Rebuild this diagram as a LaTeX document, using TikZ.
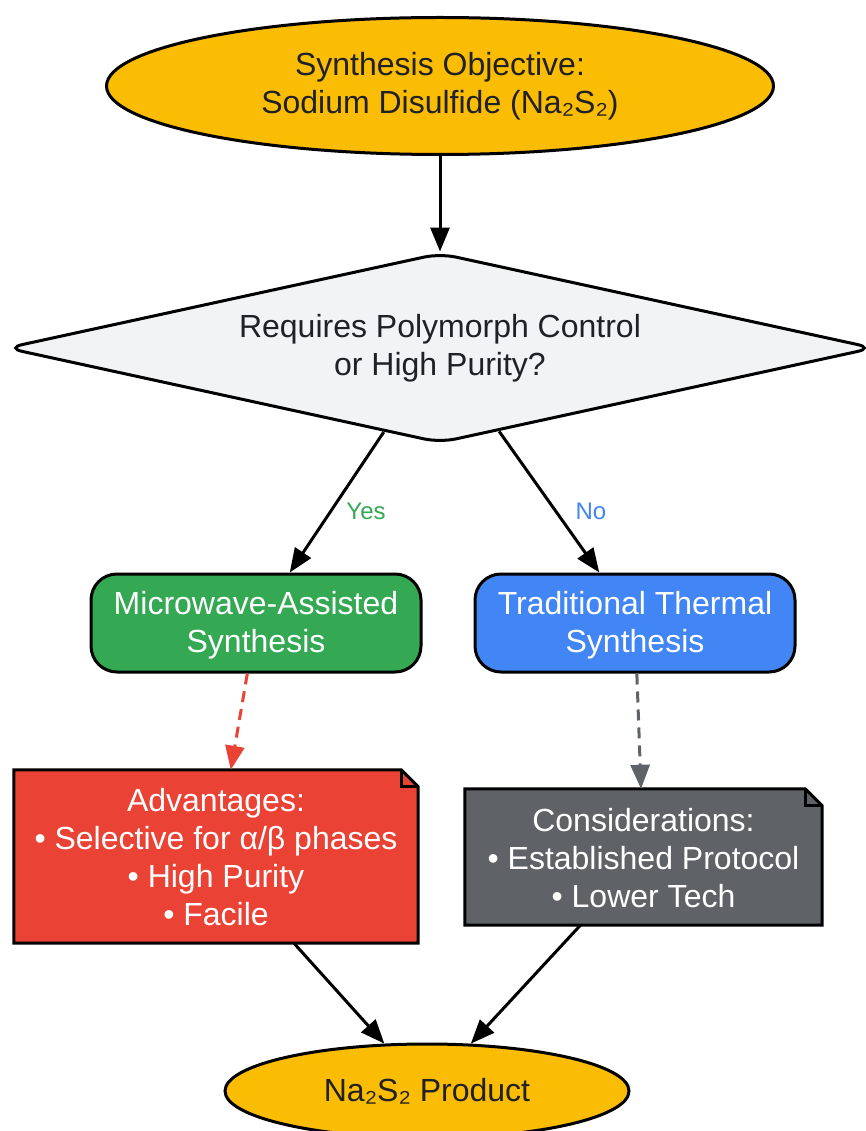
\documentclass[tikz,border=0pt]{standalone}
\usepackage{fontspec}
\setmainfont{Liberation Sans}
\usetikzlibrary{shapes.geometric,arrows.meta,calc}
\definecolor{gyellow}{HTML}{FBBC04}
\definecolor{glight}{HTML}{F1F3F4}
\definecolor{ggreen}{HTML}{34A853}
\definecolor{gblue}{HTML}{4285F4}
\definecolor{gred}{HTML}{EA4335}
\definecolor{ggray}{HTML}{5F6368}
\definecolor{gtext}{HTML}{202124}
\tikzset{
  txt/.style={font=\fontsize{32}{38}\selectfont, align=center},
  oval/.style={ellipse, draw=black, line width=3pt, fill=gyellow, text=gtext, txt, inner sep=0pt},
  decision/.style={diamond, shape aspect=4.56, draw=black, line width=3pt, fill=glight, text=gtext, txt, rounded corners=16pt, inner sep=0pt},
  proc/.style={rectangle, rounded corners=26pt, draw=black, line width=3pt, text=white, txt, inner sep=0pt},
  notebox/.style={rectangle, text=white, txt, inner sep=0pt},
  arr/.style={line width=3pt, -{Triangle[length=24pt,width=19pt]}},
  darr/.style={line width=3pt, dash pattern=on 11pt off 7pt, -{Triangle[length=24pt,width=19pt]}},
  lbl/.style={font=\fontsize{24}{28}\selectfont},
  noteline/.style={draw=black, line width=3pt, line join=miter},
}
\begin{document}
\begin{tikzpicture}[x=1pt,y=-1pt]
\useasboundingbox (0,0) rectangle (865,1131);
\node[oval, minimum width=667pt, minimum height=137pt] (obj) at (440,86) {Synthesis Objective:\\Sodium Disulfide (Na₂S₂)};
\node[decision, minimum width=868pt, minimum height=190pt] (dec) at (440,348) {Requires Polymorph Control\\or High Purity?};
\node[proc, fill=ggreen, minimum width=330pt, minimum height=98pt] (mw) at (256,623) {};
\node[proc, fill=gblue, minimum width=320pt, minimum height=98pt] (tt) at (635,623) {};
\node[notebox, text=white] (mwt) at ($(mw.center)+(0,2.5)$) {Microwave-Assisted\\Synthesis};
\node[notebox, text=white] (ttt) at ($(tt.center)+(0,2.5)$) {Traditional Thermal\\Synthesis};
% notes (frames drawn below)
\node[notebox, minimum width=404pt, minimum height=173pt] (adv) at (216,856.5) {};
\node[notebox, minimum width=357pt, minimum height=136pt] (con) at (643.5,857) {};
\node[oval, minimum width=404pt, minimum height=94pt] (prod) at (427,1091) {Na₂S₂ Product};
% note outlines
\fill[gred,noteline] (adv.north west) -- ($(adv.north east)+(-17,0)$) -- ($(adv.north east)+(0,17)$) -- (adv.south east) -- (adv.south west) -- cycle;
\draw[noteline] ($(adv.north east)+(-17,0)$) -- ($(adv.north east)+(-17,17)$) -- ($(adv.north east)+(0,17)$);
\fill[ggray,noteline] (con.north west) -- ($(con.north east)+(-17,0)$) -- ($(con.north east)+(0,17)$) -- (con.south east) -- (con.south west) -- cycle;
\draw[noteline] ($(con.north east)+(-17,0)$) -- ($(con.north east)+(-17,17)$) -- ($(con.north east)+(0,17)$);
\node[notebox] (advt) at ($(adv.center)+(0,1)$) {Advantages:\\• Selective for α/β phases\\• High Purity\\• Facile};
\node[notebox] (cont) at ($(con.center)+(0,1)$) {Considerations:\\• Established Protocol\\• Lower Tech};
% edges
\draw[arr] (obj) -- (dec);
\draw[arr] (dec) -- (mw);
\draw[arr] (dec) -- (tt);
\node[lbl, text=ggreen] (yes) at (366,511) {Yes};
\node[lbl, text=gblue] (no) at (591,511) {No};
\draw[darr, gred] (mw) -- (adv);
\draw[darr, ggray] (tt) -- (con);
\draw[arr] (adv) -- (prod);
\draw[arr] (con) -- (prod);
\end{tikzpicture}
\end{document}
